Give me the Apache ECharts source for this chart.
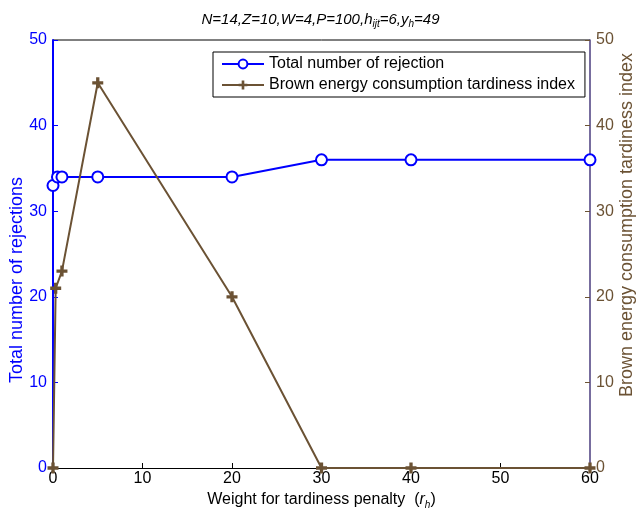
<!DOCTYPE html>
<html>
<head>
<meta charset="utf-8">
<script src="https://cdn.jsdelivr.net/npm/echarts@6/dist/echarts.min.js"></script>
<style>
  html, body { margin: 0; padding: 0; background: #fff; }
  #main { width: 641px; height: 513px; }
</style>
</head>
<body>
<div id="main"></div>
<script>
  // values
var rejectX = [0, 0.5, 1, 5, 20, 30, 40, 60];
var rejectY = [33, 34, 34, 34, 34, 36, 36, 36];
var brownX = [0, 0.3, 1, 5, 20, 30, 40, 60];
var brownY = [0, 21, 23, 45, 20, 0, 0, 0];

var BLUE = '#0000ff';
var BROWN = '#6b5234';
var FONT = 'Liberation Sans';

// thick plus marker, like the matlab '+' with a wide line
var plusPath = 'path://M3.5,0 L6.5,0 L6.5,3.5 L10,3.5 L10,6.5 L6.5,6.5 L6.5,10 L3.5,10 L3.5,6.5 L0,6.5 L0,3.5 L3.5,3.5 Z';

function pairs(xs, ys) {
  var out = [];
  for (var i = 0; i < xs.length; i++) {
    out.push([xs[i], ys[i]]);
  }
  return out;
}

var myChart = echarts.init(document.getElementById('main'));

var option = {
  backgroundColor: '#fff',
  animation: false,
  textStyle: {fontFamily: FONT},
  title: {
    text: '{t|N=14,Z=10,W=4,P=100,h}{s|ijt}{t|=6,y}{s|h}{t|=49}',
    left: 'center',
    top: 5,
    textStyle: {
      fontWeight: 'normal',
      rich: {
        t: {fontFamily: FONT, fontStyle: 'italic', fontWeight: 'normal', fontSize: 15, color: '#000'},
        s: {fontFamily: FONT, fontStyle: 'italic', fontWeight: 'normal', fontSize: 10, color: '#000', padding: [9, 0, 0, 0]}
      }
    }
  },
  legend: {
    left: 213,
    top: 52,
    orient: 'vertical',
    backgroundColor: '#fff',
    borderColor: '#000',
    borderWidth: 1,
    borderRadius: 0,
    padding: [4, 10, 4, 8],
    itemGap: 5,
    itemWidth: 42,
    itemHeight: 11,
    textStyle: {fontFamily: FONT, fontSize: 16, color: '#000'},
    data: ['Total number of rejection', 'Brown energy consumption tardiness index']
  },
  grid: {left: 53, right: 51, top: 40, bottom: 45, outerBoundsMode: 'none', containLabel: false},
  xAxis: {
    type: 'value',
    min: 0,
    max: 60,
    interval: 10,
    name: '{n|Weight for tardiness penalty  (}{r|r}{s|h}{n|)}',
    nameLocation: 'middle',
    nameGap: 22,
    nameTextStyle: {
      rich: {
        n: {fontFamily: FONT, fontSize: 16, color: '#000'},
        r: {fontFamily: FONT, fontSize: 16, fontStyle: 'italic', color: '#000'},
        s: {fontFamily: FONT, fontSize: 10, fontStyle: 'italic', color: '#000', padding: [10, 0, 0, 0]}
      }
    },
    axisLine: {show: true, onZero: false, lineStyle: {color: '#000', width: 1}},
    axisTick: {inside: true, length: 5, lineStyle: {color: '#000'}},
    axisLabel: {color: '#000', fontSize: 16, margin: 3, fontFamily: FONT},
    splitLine: {show: false}
  },
  yAxis: [
    {
      type: 'value',
      min: 0,
      max: 50,
      interval: 10,
      position: 'left',
      axisLine: {show: true, onZero: false, lineStyle: {color: BLUE, width: 2}},
      axisTick: {show: true, inside: true, length: 5, lineStyle: {color: BLUE}},
      axisLabel: {color: BLUE, fontSize: 16, margin: 6, fontFamily: FONT},
      splitLine: {show: false}
    },
    {
      type: 'value',
      min: 0,
      max: 50,
      interval: 10,
      position: 'right',
      axisLine: {show: true, onZero: false, lineStyle: {color: '#4a3d7e', width: 1.5}},
      axisTick: {show: true, inside: true, length: 5, lineStyle: {color: BROWN}},
      axisLabel: {color: BROWN, fontSize: 16, margin: 6, fontFamily: FONT},
      splitLine: {show: false}
    }
  ],
  series: [
    {
      name: 'Total number of rejection',
      type: 'line',
      yAxisIndex: 0,
      data: pairs(rejectX, rejectY),
      symbol: 'emptyCircle',
      symbolSize: 11,
      color: BLUE,
      lineStyle: {color: BLUE, width: 2},
      itemStyle: {color: BLUE, borderWidth: 2.2},
      z: 3
    },
    {
      name: 'Brown energy consumption tardiness index',
      type: 'line',
      yAxisIndex: 1,
      data: pairs(brownX, brownY),
      symbol: plusPath,
      symbolSize: 11,
      color: BROWN,
      lineStyle: {color: BROWN, width: 2},
      itemStyle: {color: BROWN},
      z: 4
    }
  ],
  graphic: [
    // top frame line of the box
    {
      type: 'line',
      shape: {x1: 53, y1: 40, x2: 590, y2: 40},
      style: {stroke: '#000', lineWidth: 1},
      silent: true
    },
    // y axis titles, placed by hand (v6 pushes axis names away from labels)
    {
      type: 'text',
      x: 17,
      y: 280,
      rotation: Math.PI / 2,
      style: {
        text: 'Total number of rejections',
        fill: BLUE,
        font: '18px "Liberation Sans"',
        align: 'center',
        verticalAlign: 'middle'
      },
      silent: true
    },
    {
      type: 'text',
      x: 627,
      y: 225,
      rotation: Math.PI / 2,
      style: {
        text: 'Brown energy consumption tardiness index',
        fill: BROWN,
        font: '18px "Liberation Sans"',
        align: 'center',
        verticalAlign: 'middle'
      },
      silent: true
    }
  ]
};

myChart.setOption(option);
</script>
</body>
</html>
